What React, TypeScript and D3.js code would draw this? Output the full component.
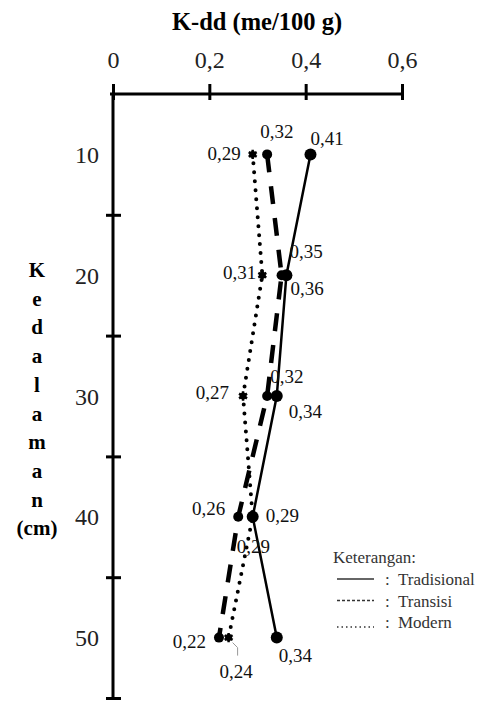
import React, { useEffect, useRef } from "react";
import * as d3 from "d3";

const depths = [10, 20, 30, 40, 50];
const tradisional = [0.41, 0.36, 0.34, 0.29, 0.34];
const transisi = [0.32, 0.35, 0.32, 0.26, 0.22];
const modern = [0.29, 0.31, 0.27, 0.29, 0.24];
const xTicks = [0, 0.2, 0.4, 0.6];
const yTicks = [15, 25, 35, 45, 55];
const yTitle = ["K", "e", "d", "a", "l", "a", "m", "a", "n", "(cm)"];
const legendNames = ["Tradisional", "Transisi", "Modern"];

// where each value label sits relative to its point: [dx, dy, anchor]
const labelOffsets: [number, number, string][][] = [
  [[0, -9, "start"], [4, 20, "start"], [12, 22, "start"], [13, 5, "start"], [2, 24, "start"]],
  [[-7, -16, "start"], [8, -17, "start"], [3, -13, "start"], [-13, -2, "end"], [-13, 10, "end"]],
  [[-12, 6, "end"], [-6, 4, "end"], [-14, 3, "end"], [-16, 36, "start"], [-9, 40, "start"]],
];

const FONT = "'Liberation Serif', 'Times New Roman', serif";

function App() {
  const ref = useRef<SVGSVGElement>(null);

  useEffect(() => {
    const svg = d3.select(ref.current);
    svg.selectAll("*").remove();

    const x = d3.scaleLinear().domain([0, 0.6]).range([113, 402]);
    const y = d3.scaleLinear().domain([5, 55]).range([94, 698]);

    const locale = d3.formatLocale({ decimal: ",", thousands: ".", grouping: [3], currency: ["", ""] });
    const tickFmt = locale.format(".1~f");
    const valFmt = locale.format(".2f");

    // top axis
    const xAxis = svg.append("g")
      .attr("transform", `translate(0,${y(5)})`)
      .call(d3.axisTop(x).tickValues(xTicks).tickSizeInner(10).tickSizeOuter(0).tickFormat(tickFmt as any));
    xAxis.select(".domain").attr("stroke", "#000").attr("stroke-width", 3).attr("d", `M${x(0) - 3},0H${x(0.6)}`);
    xAxis.selectAll(".tick line").attr("stroke", "#000").attr("stroke-width", 3).attr("y1", 6).attr("y2", -10);
    xAxis.selectAll(".tick text")
      .attr("y", -26).attr("dy", 0)
      .attr("font-family", FONT).attr("font-size", 24).attr("fill", "#222");

    // left axis: tick marks only
    const yAxis = svg.append("g")
      .attr("transform", `translate(${x(0)},0)`)
      .call(d3.axisLeft(y).tickValues(yTicks).tickSizeInner(7).tickSizeOuter(0).tickFormat(() => ""));
    yAxis.select(".domain").attr("stroke", "#000").attr("stroke-width", 3).attr("d", `M0,${y(5)}V${y(55) + 2}`);
    yAxis.selectAll(".tick line").attr("stroke", "#000").attr("stroke-width", 3).attr("x1", 8).attr("x2", -7);

    // left axis labels
    const yLabels = svg.append("g")
      .attr("transform", `translate(${x(0)},0)`)
      .call(d3.axisLeft(y).tickValues(depths).tickSize(0).tickPadding(14).tickFormat(d3.format("d") as any));
    yLabels.select(".domain").remove();
    yLabels.selectAll(".tick text")
      .attr("dy", 8)
      .attr("font-family", FONT).attr("font-size", 24).attr("fill", "#222");

    // titles
    svg.append("text")
      .attr("x", 257).attr("y", 30)
      .attr("text-anchor", "middle")
      .attr("font-family", FONT).attr("font-weight", "bold").attr("font-size", 24.5)
      .text("K-dd (me/100 g)");

    svg.append("g").selectAll("text")
      .data(yTitle)
      .join("text")
      .attr("x", 37)
      .attr("y", (d, i) => 277 + i * 28.7)
      .attr("text-anchor", "middle")
      .attr("font-family", FONT).attr("font-weight", "bold").attr("font-size", 21)
      .text(d => d);

    const series = [tradisional, transisi, modern];
    const line = d3.line<number>().x(d => x(d)).y((d, i) => y(depths[i]));

    // lines
    svg.append("path").attr("d", line(modern)!)
      .attr("fill", "none").attr("stroke", "#000").attr("stroke-width", 4)
      .attr("stroke-linecap", "round").attr("stroke-dasharray", "0 9");
    svg.append("path").attr("d", line(transisi)!)
      .attr("fill", "none").attr("stroke", "#000").attr("stroke-width", 4.5)
      .attr("stroke-dasharray", "18 14");
    svg.append("path").attr("d", line(tradisional)!)
      .attr("fill", "none").attr("stroke", "#000").attr("stroke-width", 2.5);

    // markers
    svg.append("g").selectAll("circle")
      .data(tradisional)
      .join("circle")
      .attr("cx", d => x(d)).attr("cy", (d, i) => y(depths[i]))
      .attr("r", 6).attr("fill", "#000");
    svg.append("g").selectAll("circle")
      .data(transisi)
      .join("circle")
      .attr("cx", d => x(d)).attr("cy", (d, i) => y(depths[i]))
      .attr("r", 5).attr("fill", "#000");
    const star = d3.symbol(d3.symbolAsterisk, 60);
    const m = svg.append("g").selectAll("g")
      .data(modern)
      .join("g")
      .attr("transform", (d, i) => `translate(${x(d)},${y(depths[i])})`);
    m.append("path").attr("d", star()!).attr("stroke", "#000").attr("stroke-width", 2.5).attr("fill", "none");
    m.append("circle").attr("r", 3.5).attr("fill", "#000");

    // leader line for the last Modern label
    const lx = x(modern[4]), ly = y(depths[4]);
    svg.append("path")
      .attr("d", `M${lx + 4},${ly + 5}L${lx + 9},${ly + 10}V${ly + 18}`)
      .attr("fill", "none").attr("stroke", "#999").attr("stroke-width", 1);

    // value labels
    series.forEach((vals, s) => {
      svg.append("g").selectAll("text")
        .data(vals)
        .join("text")
        .attr("x", (d, i) => x(d) + labelOffsets[s][i][0])
        .attr("y", (d, i) => y(depths[i]) + labelOffsets[s][i][1])
        .attr("text-anchor", (d, i) => labelOffsets[s][i][2])
        .attr("font-family", FONT).attr("font-size", 19).attr("fill", "#111")
        .text(d => valFmt(d));
    });

    // legend
    const lg = svg.append("g").attr("font-family", FONT).attr("font-size", 17).attr("fill", "#333");
    lg.append("text").attr("x", 333).attr("y", 563).text("Keterangan:");
    const dashes = ["", "3 2", "1.5 3"];
    legendNames.forEach((name, i) => {
      const ty = 585 + i * 21.5;
      lg.append("line")
        .attr("x1", 337).attr("x2", 374)
        .attr("y1", i === 2 ? ty - 1 : ty - 6).attr("y2", i === 2 ? ty - 1 : ty - 6)
        .attr("stroke", "#333").attr("stroke-width", i === 2 ? 1.5 : 1.6)
        .attr("stroke-dasharray", dashes[i]);
      lg.append("text").attr("x", 385).attr("y", ty).text(":");
      lg.append("text").attr("x", 398).attr("y", ty).text(name);
    });
  }, []);

  return (
    <div style={{ position: "absolute", left: 0, top: 0 }}>
      <svg ref={ref} width={486} height={702} style={{ display: "block", background: "#fff" }} />
    </div>
  );
}

export default App;
